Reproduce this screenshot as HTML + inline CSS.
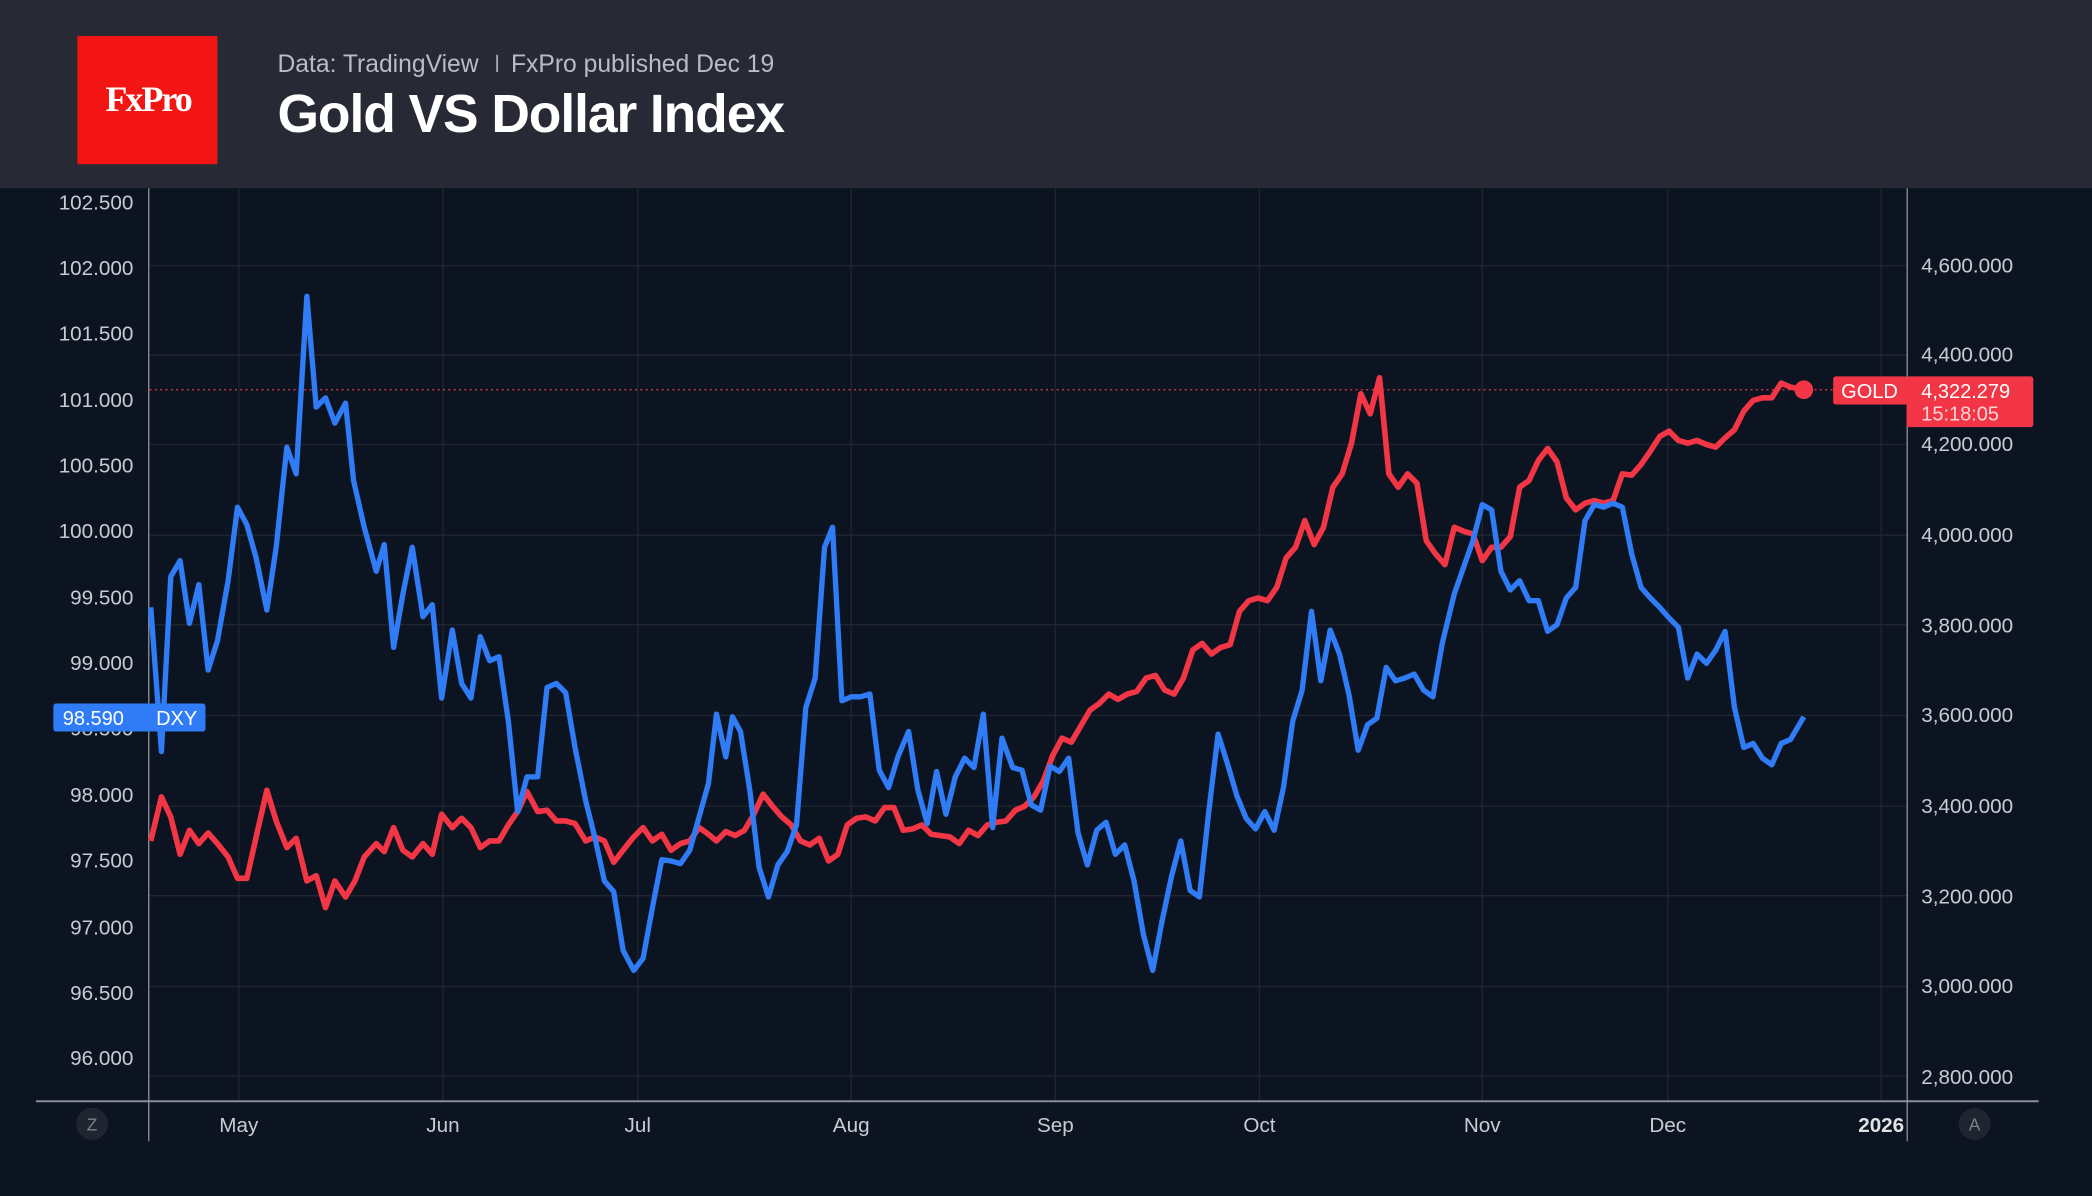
<!DOCTYPE html>
<html><head><meta charset="utf-8"><style>
html,body{margin:0;padding:0;background:#0d1421;}
svg{display:block}
text{font-family:"Liberation Sans",sans-serif;}
</style></head><body>
<svg width="2092" height="1196" viewBox="0 0 1568 896" preserveAspectRatio="none" xmlns="http://www.w3.org/2000/svg">
<rect width="1568" height="896" fill="#0d1421"/>
<rect width="1568" height="141" fill="#272a35"/>
<rect x="58" y="27" width="105" height="96" fill="#f31414"/>
<text x="111" y="83" fill="#fff" font-size="27" font-weight="bold" text-anchor="middle" style="font-family:'Liberation Serif',serif" letter-spacing="-1.5">FxPro</text>
<text x="208" y="54" fill="#b9bcc4" font-size="18.5">Data: TradingView</text>
<rect x="372" y="41" width="1.2" height="13" fill="#b9bcc4"/>
<text x="383" y="54" fill="#b9bcc4" font-size="18.5">FxPro published Dec 19</text>
<text x="208" y="99" fill="#fff" font-size="40" font-weight="bold" letter-spacing="-0.8">Gold VS Dollar Index</text>
<g stroke="#1f2631" stroke-width="1">
<line x1="112" y1="199" x2="1429" y2="199"/><line x1="112" y1="266" x2="1429" y2="266"/>
<line x1="112" y1="333" x2="1429" y2="333"/><line x1="112" y1="401" x2="1429" y2="401"/>
<line x1="112" y1="468" x2="1429" y2="468"/><line x1="112" y1="536" x2="1429" y2="536"/>
<line x1="112" y1="604" x2="1429" y2="604"/><line x1="112" y1="671" x2="1429" y2="671"/>
<line x1="112" y1="739" x2="1429" y2="739"/><line x1="112" y1="806" x2="1429" y2="806"/>
<line x1="179" y1="141" x2="179" y2="825"/><line x1="332" y1="141" x2="332" y2="825"/>
<line x1="478" y1="141" x2="478" y2="825"/><line x1="638" y1="141" x2="638" y2="825"/>
<line x1="791" y1="141" x2="791" y2="825"/><line x1="944" y1="141" x2="944" y2="825"/>
<line x1="1111" y1="141" x2="1111" y2="825"/><line x1="1250" y1="141" x2="1250" y2="825"/>
<line x1="1410" y1="141" x2="1410" y2="825"/>
</g>
<line x1="111.5" y1="141" x2="111.5" y2="855" stroke="#8a8f98" stroke-width="1"/>
<line x1="1429.5" y1="141" x2="1429.5" y2="855" stroke="#8a8f98" stroke-width="1"/>
<line x1="27" y1="825" x2="1528" y2="825" stroke="#8a8f98" stroke-width="1.5"/>
<g fill="#c8cbd2" font-size="15.5" text-anchor="end">
<text x="100" y="157">102.500</text><text x="100" y="206">102.000</text><text x="100" y="255">101.500</text>
<text x="100" y="305">101.000</text><text x="100" y="354">100.500</text><text x="100" y="403">100.000</text>
<text x="100" y="453">99.500</text><text x="100" y="502">99.000</text><text x="100" y="551">98.500</text>
<text x="100" y="601">98.000</text><text x="100" y="650">97.500</text><text x="100" y="700">97.000</text>
<text x="100" y="749">96.500</text><text x="100" y="798">96.000</text>
</g>
<g fill="#c8cbd2" font-size="15.5">
<text x="1440" y="204">4,600.000</text><text x="1440" y="271">4,400.000</text><text x="1440" y="338">4,200.000</text>
<text x="1440" y="406">4,000.000</text><text x="1440" y="474">3,800.000</text><text x="1440" y="541">3,600.000</text>
<text x="1440" y="609">3,400.000</text><text x="1440" y="677">3,200.000</text><text x="1440" y="744">3,000.000</text>
<text x="1440" y="812">2,800.000</text>
</g>
<g fill="#c8cbd2" font-size="15.5" text-anchor="middle">
<text x="179" y="848">May</text><text x="332" y="848">Jun</text><text x="478" y="848">Jul</text>
<text x="638" y="848">Aug</text><text x="791" y="848">Sep</text><text x="944" y="848">Oct</text>
<text x="1111" y="848">Nov</text><text x="1250" y="848">Dec</text>
<text x="1410" y="848" font-weight="bold" fill="#e0e2e6">2026</text>
</g>
<circle cx="69" cy="842" r="12" fill="#1f2430"/><text x="69" y="847" fill="#7c818b" font-size="13" text-anchor="middle">Z</text>
<circle cx="1480" cy="842" r="12" fill="#1f2430"/><text x="1480" y="847" fill="#7c818b" font-size="13" text-anchor="middle">A</text>
<line x1="112" y1="292" x2="1374" y2="292" stroke="#f23645" stroke-width="1" stroke-dasharray="1.5,2.5"/>
<polyline fill="none" stroke="#f23645" stroke-width="4.2" stroke-linejoin="round" points="113,630 121,597 128,612 135,640 142,622 149,632 156,624 163,632 171,642 178,658 185,658 192,627 200,592 207,615 215,635 222,628 230,660 237,656 244,680 251,660 259,672 266,660 273,642 282,632 288,638 295,620 302,637 309,642 317,632 324,640 331,610 339,620 346,613 353,620 360,635 367,630 374,630 381,618 388,608 395,593 403,608 410,607 417,615 424,615 431,617 439,630 446,627 453,630 460,646 467,637 475,627 482,620 489,630 496,625 503,637 510,632 517,630 524,620 531,625 537,630 544,623 551,626 558,622 565,610 572,595 579,604 586,612 593,618 600,630 607,633 614,628 621,645 628,640 635,618 642,613 649,612 656,615 663,605 670,605 677,622 684,621 691,618 698,625 705,626 712,627 719,632 726,622 733,626 740,618 747,616 754,615 761,607 768,604 775,597 782,585 789,566 796,553 803,556 810,544 817,532 824,527 831,520 838,524 845,520 852,518 859,508 866,506 873,517 880,520 887,508 894,487 901,482 908,490 915,485 922,483 929,458 936,450 943,448 950,450 957,440 964,418 971,410 978,390 985,408 992,395 999,365 1006,355 1013,332 1020,295 1027,310 1034,283 1041,355 1048,365 1055,355 1062,362 1069,405 1076,415 1083,423 1090,395 1097,398 1104,400 1111,420 1118,410 1125,410 1132,402 1139,365 1146,360 1153,345 1160,336 1167,346 1174,373 1181,382 1188,377 1195,375 1202,377 1209,375 1216,355 1223,356 1230,348 1237,338 1244,327 1251,323 1258,330 1265,332 1272,330 1279,333 1286,335 1293,328 1300,322 1307,308 1314,300 1321,298 1328,298 1335,287 1342,290 1352,292"/>
<polyline fill="none" stroke="#2f7cf6" stroke-width="4" stroke-linejoin="round" points="113,455 121,563 128,432 135,420 142,467 149,438 156,502 163,480 171,435 178,380 185,393 192,418 200,457 207,410 215,335 222,355 230,222 237,305 244,298 251,317 259,302 265,360 273,395 282,428 288,408 295,485 302,445 309,410 317,462 324,453 331,523 339,472 346,512 353,523 360,477 367,495 374,492 381,540 388,608 395,582 403,582 410,515 417,512 424,519 431,560 439,600 446,628 453,660 460,668 467,712 475,727 482,718 489,680 496,644 503,645 510,647 517,637 524,612 531,587 537,535 544,567 549,537 555,548 562,592 569,650 576,672 583,648 590,638 597,618 604,530 611,508 618,410 624,395 631,525 638,522 645,522 652,520 659,577 666,590 673,567 681,548 688,592 695,617 702,578 709,610 716,582 723,568 730,575 737,535 744,620 751,553 759,575 766,577 773,603 780,607 787,574 794,578 801,568 808,624 815,648 822,622 829,616 836,640 843,633 850,660 857,700 864,727 871,690 878,657 885,630 892,667 899,672 906,608 913,550 920,572 927,596 934,613 941,621 948,608 955,622 962,590 969,540 976,517 983,458 990,510 997,472 1004,490 1011,520 1018,562 1025,543 1032,538 1039,500 1046,510 1053,508 1060,505 1067,517 1074,522 1081,482 1090,445 1097,425 1104,405 1111,378 1118,382 1125,428 1132,442 1139,435 1146,450 1153,450 1160,473 1167,468 1174,448 1181,440 1188,390 1195,378 1202,380 1209,377 1216,380 1223,415 1230,440 1237,448 1244,455 1251,463 1258,470 1265,508 1272,490 1279,497 1286,487 1293,473 1300,530 1307,560 1314,557 1321,568 1328,573 1335,557 1342,554 1352,537"/>
<circle cx="1352" cy="292" r="7" fill="#f23645"/>
<rect x="40" y="527" width="114" height="21" rx="2" fill="#2f7cf6"/>
<text x="47" y="543" fill="#fff" font-size="15">98.590</text><text x="117" y="543" fill="#fff" font-size="15">DXY</text>
<rect x="1374" y="282" width="56" height="21" rx="2" fill="#f23645"/>
<text x="1380" y="298" fill="#fff" font-size="15">GOLD</text>
<rect x="1429" y="282" width="95" height="38" rx="2" fill="#f23645"/>
<text x="1440" y="298" fill="#fff" font-size="15">4,322.279</text>
<text x="1440" y="315" fill="#fcd4d8" font-size="15">15:18:05</text>
</svg>
</body></html>
